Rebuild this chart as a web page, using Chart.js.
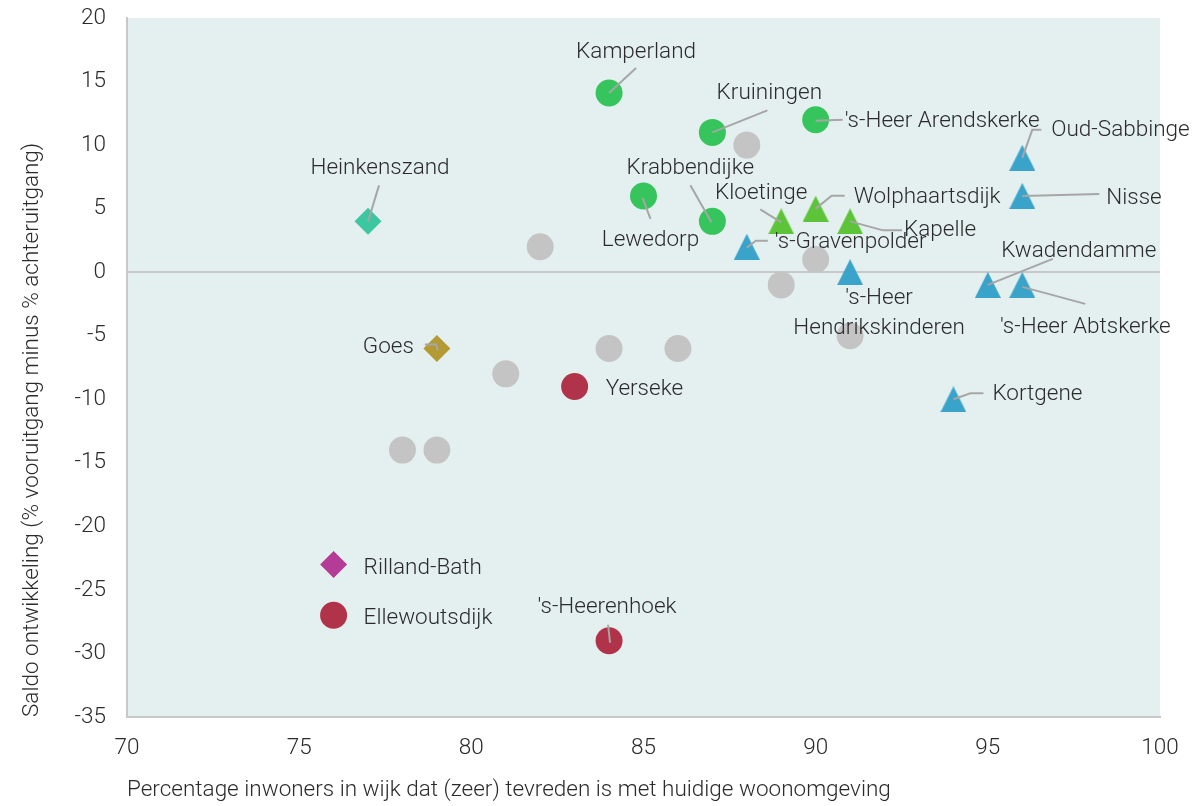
<!DOCTYPE html>
<html lang="nl">
<head>
<meta charset="utf-8">
<title>Tevredenheid woonomgeving en saldo ontwikkeling per kern</title>
<script src="https://cdn.jsdelivr.net/npm/chart.js@4.4.1/dist/chart.umd.min.js"></script>
<style>
  html, body { margin: 0; padding: 0; background: #ffffff; }
  #wrap { width: 1196px; height: 806px; }
</style>
</head>
<body>
<div id="wrap"><canvas id="chart" width="1196" height="806"></canvas></div>
<script>
// Kernen, per groep: x = % (zeer) tevreden met woonomgeving, y = saldo ontwikkeling
const greenCircleNames = ['Kamperland', 'Kruiningen', "'s-Heer Arendskerke", 'Lewedorp', 'Krabbendijke'];
const greenCircleX = [84, 87, 90, 85, 87];
const greenCircleY = [14.1, 11, 12, 6, 4];

const grayCircleX = [88, 82, 90, 89, 91, 84, 86, 81, 78, 79];
const grayCircleY = [10, 2, 1, -1, -5, -6, -6, -8, -14, -14];

const redCircleNames = ['Yerseke', "'s-Heerenhoek", 'Ellewoutsdijk'];
const redCircleX = [83, 84, 76];
const redCircleY = [-9, -29, -27];

const tealDiamondNames = ['Heinkenszand'];
const tealDiamondX = [77];
const tealDiamondY = [4];

const goldDiamondNames = ['Goes'];
const goldDiamondX = [79];
const goldDiamondY = [-6];

const purpleDiamondNames = ['Rilland-Bath'];
const purpleDiamondX = [76];
const purpleDiamondY = [-23];

const blueTriangleNames = ["'s-Gravenpolder", "'s-Heer Hendrikskinderen", 'Kwadendamme', "'s-Heer Abtskerke", 'Nisse', 'Oud-Sabbinge', 'Kortgene'];
const blueTriangleX = [88, 91, 95, 96, 96, 96, 94];
const blueTriangleY = [2, 0, -1, -1, 6, 9, -10];

const greenTriangleNames = ['Kloetinge', 'Wolphaartsdijk', 'Kapelle'];
const greenTriangleX = [89, 90, 91];
const greenTriangleY = [4, 5, 4];

const xTicks = [70, 75, 80, 85, 90, 95, 100];
const yTicks = [20, 15, 10, 5, 0, -5, -10, -15, -20, -25, -30, -35];

const xTitle = 'Percentage inwoners in wijk dat (zeer) tevreden is met huidige woonomgeving';
const yTitle = 'Saldo ontwikkeling (% vooruitgang minus % achteruitgang)';

// Label placement (pixel offsets from the marker) and leader lines
const labelPlacement = {
  'Kamperland':               { dx: 27,  dy: -41, align: 'center', leader: [[0, 0], [27, -25]] },
  'Kruiningen':               { dx: 57,  dy: -39, align: 'center', leader: [[0, 0], [55, -22]] },
  "'s-Heer Arendskerke":      { dx: 29,  dy: 2,   align: 'left',   leader: [[0, 1], [27, 0]] },
  'Krabbendijke':             { dx: -22, dy: -53, align: 'center', leader: [[-22, -36], [-1, 1]] },
  'Lewedorp':                 { dx: 7,   dy: 44,  align: 'center', leader: [[-1, 2], [7, 23]] },
  'Kloetinge':                { dx: -20, dy: -28, align: 'center', leader: [[-21, -12], [0, 1]] },
  'Wolphaartsdijk':           { dx: 38,  dy: -11, align: 'left',   leader: [[0, 0], [16, -13], [29, -13]] },
  'Kapelle':                  { dx: 54,  dy: 9,   align: 'left',   leader: [[0, 0], [33, 9], [52, 9]] },
  "'s-Gravenpolder":          { dx: 28,  dy: -4,  align: 'left',   leader: [[0, 1], [9, -6], [21, -6]] },
  "'s-Heer Hendrikskinderen": { dx: 29,  dy: 26,  align: 'center', lines: ["'s-Heer", 'Hendrikskinderen'], gap: 30 },
  'Oud-Sabbinge':             { dx: 29,  dy: -27, align: 'left',   leader: [[0, 0], [10, -28], [19, -28]] },
  'Nisse':                    { dx: 84,  dy: 2,   align: 'left',   leader: [[0, 0], [77, -2]] },
  'Kwadendamme':              { dx: 91,  dy: -34, align: 'center', leader: [[0, 0], [65, -26]] },
  "'s-Heer Abtskerke":        { dx: 63,  dy: 42,  align: 'center', leader: [[0, 2], [63, 19]] },
  'Kortgene':                 { dx: 39,  dy: -5,  align: 'left',   leader: [[0, 0], [17, -6], [30, -6]] },
  'Heinkenszand':             { dx: 12,  dy: -53, align: 'center', leader: [[0, 0], [11, -36]] },
  'Goes':                     { dx: -23, dy: -1,  align: 'right',  leader: [[-12, -4], [-1, -4], [1, 2]] },
  'Yerseke':                  { dx: 31,  dy: 3,   align: 'left' },
  "'s-Heerenhoek":            { dx: -2,  dy: -33, align: 'center', leader: [[1, 2], [-1, -16]] },
  'Rilland-Bath':             { dx: 30,  dy: 4,   align: 'left' },
  'Ellewoutsdijk':            { dx: 30,  dy: 3,   align: 'left' }
};

const FONT_FAMILY = 'Roboto, "Noto Sans", sans-serif';
const FONT_SIZE = 22.5;
const TEXT_COLOR = '#2b2b2b';

// Triangle marker centred on its bounding box
function makeTriangle(color, w, h) {
  const c = document.createElement('canvas');
  c.width = w; c.height = h;
  const g = c.getContext('2d');
  g.fillStyle = color;
  g.beginPath();
  g.moveTo(w / 2, 0);
  g.lineTo(w, h);
  g.lineTo(0, h);
  g.closePath();
  g.fill();
  return c;
}

function points(xs, ys, names) {
  return xs.map((x, i) => ({ x: x, y: ys[i], name: names ? names[i] : null }));
}

const blueTriangle = makeTriangle('#3aa3c9', 26, 26);
const greenTriangle = makeTriangle('#5dc43a', 26, 26);

const datasets = [
  { label: 'overig', data: points(grayCircleX, grayCircleY), pointStyle: 'circle', radius: 13.5, backgroundColor: '#c4c4c4' },
  { label: 'groen', data: points(greenCircleX, greenCircleY, greenCircleNames), pointStyle: 'circle', radius: 13.5, backgroundColor: '#36c55c' },
  { label: 'rood', data: points(redCircleX, redCircleY, redCircleNames), pointStyle: 'circle', radius: 13.5, backgroundColor: '#b03349' },
  { label: 'turkoois', data: points(tealDiamondX, tealDiamondY, tealDiamondNames), pointStyle: 'rectRot', radius: 13.5, backgroundColor: '#3cc6a2' },
  { label: 'goud', data: points(goldDiamondX, goldDiamondY, goldDiamondNames), pointStyle: 'rectRot', radius: 13.5, backgroundColor: '#b39a35' },
  { label: 'paars', data: points(purpleDiamondX, purpleDiamondY, purpleDiamondNames), pointStyle: 'rectRot', radius: 13.5, backgroundColor: '#b43c96' },
  { label: 'blauw', data: points(blueTriangleX, blueTriangleY, blueTriangleNames), pointStyle: blueTriangle, radius: 13, backgroundColor: '#3aa3c9' },
  { label: 'lichtgroen', data: points(greenTriangleX, greenTriangleY, greenTriangleNames), pointStyle: greenTriangle, radius: 13, backgroundColor: '#5dc43a' }
];
datasets.forEach(d => { d.borderWidth = 0; d.borderColor = 'transparent'; d.hoverRadius = d.radius; });

const plotBackground = {
  id: 'plotBackground',
  beforeDraw(chart) {
    const { ctx, chartArea: a } = chart;
    ctx.save();
    ctx.fillStyle = '#e4f0ef';
    ctx.fillRect(a.left, a.top, a.right - a.left, a.bottom - a.top);
    ctx.restore();
  }
};

const pointLabels = {
  id: 'pointLabels',
  afterDatasetsDraw(chart) {
    const ctx = chart.ctx;
    ctx.save();
    ctx.font = '300 ' + FONT_SIZE + 'px ' + FONT_FAMILY;
    ctx.fillStyle = TEXT_COLOR;
    ctx.textBaseline = 'middle';
    chart.data.datasets.forEach((ds, di) => {
      const meta = chart.getDatasetMeta(di);
      ds.data.forEach((p, i) => {
        if (!p.name) return;
        const spec = labelPlacement[p.name];
        if (!spec) return;
        const el = meta.data[i];
        const px = el.x, py = el.y;
        if (spec.leader) {
          ctx.strokeStyle = '#a6a6a6';
          ctx.lineWidth = 2;
          ctx.beginPath();
          spec.leader.forEach((q, k) => {
            if (k === 0) ctx.moveTo(px + q[0], py + q[1]);
            else ctx.lineTo(px + q[0], py + q[1]);
          });
          ctx.stroke();
        }
        ctx.textAlign = spec.align;
        const lines = spec.lines || [p.name];
        lines.forEach((t, k) => {
          ctx.fillText(t, px + spec.dx, py + spec.dy + k * (spec.gap || 0));
        });
      });
    });
    ctx.restore();
  }
};

Chart.defaults.font.family = FONT_FAMILY;
Chart.defaults.font.size = FONT_SIZE;
Chart.defaults.font.weight = '300';
Chart.defaults.color = TEXT_COLOR;

const axisFont = { size: FONT_SIZE, weight: '300' };

new Chart(document.getElementById('chart'), {
  type: 'scatter',
  data: { datasets: datasets },
  plugins: [plotBackground, pointLabels],
  options: {
    responsive: false,
    animation: false,
    events: [],
    layout: { padding: { top: 18, right: 36, left: 0, bottom: 0 } },
    plugins: { legend: { display: false }, tooltip: { enabled: false } },
    scales: {
      x: {
        type: 'linear',
        min: xTicks[0],
        max: xTicks[xTicks.length - 1],
        afterBuildTicks(scale) { scale.ticks = xTicks.map(v => ({ value: v })); },
        afterFit(scale) { scale.height = 89; scale.paddingLeft = 0; scale.paddingRight = 0; },
        ticks: { padding: 17.5, maxRotation: 0, autoSkip: false, font: axisFont, color: TEXT_COLOR },
        grid: { display: false, drawTicks: false },
        border: { display: true, color: '#c8c8c8', width: 2 },
        title: { display: true, text: xTitle, align: 'start', color: TEXT_COLOR, font: axisFont, padding: { top: 0, bottom: 2.5 } }
      },
      y: {
        type: 'linear',
        min: yTicks[yTicks.length - 1],
        max: yTicks[0],
        afterBuildTicks(scale) { scale.ticks = yTicks.map(v => ({ value: v })); },
        afterFit(scale) { scale.width = 127; scale.paddingTop = 0; scale.paddingBottom = 0; },
        ticks: { padding: 21, autoSkip: false, font: axisFont, color: TEXT_COLOR },
        grid: {
          display: true,
          drawTicks: false,
          color: c => (c.tick && c.tick.value === 0 ? '#c8c8c8' : 'rgba(0,0,0,0)'),
          lineWidth: 2
        },
        border: { display: true, color: '#c8c8c8', width: 2 },
        title: { display: true, text: yTitle, align: 'start', color: TEXT_COLOR, font: axisFont, padding: { top: 18.5, bottom: 0 } }
      }
    }
  }
});
</script>
</body>
</html>
